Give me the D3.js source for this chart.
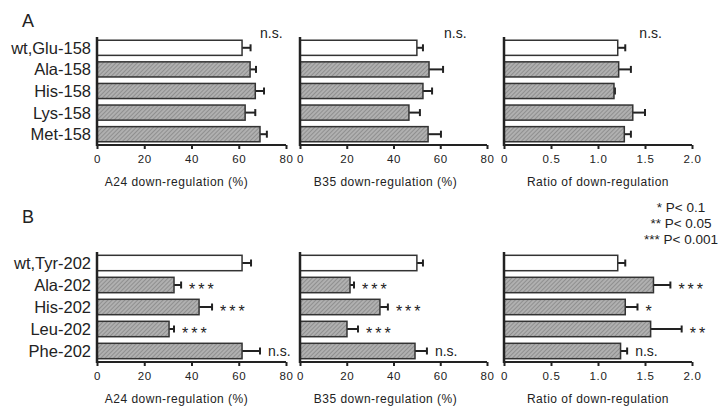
<!DOCTYPE html>
<html>
<head>
<meta charset="utf-8">
<script src="https://cdn.jsdelivr.net/npm/d3@7"></script>
<style>
  body { margin: 0; background: #fff; }
  text { font-family: "Liberation Sans", Arial, sans-serif; fill: #222; }
</style>
</head>
<body>
<div id="chart"></div>
<script>
// categories
var catsA = ["wt,Glu-158", "Ala-158", "His-158", "Lys-158", "Met-158"];
var catsB = ["wt,Tyr-202", "Ala-202", "His-202", "Leu-202", "Phe-202"];

// panel A values (mean, sem)
var a24A = [61.4, 64.8, 67.0, 62.7, 69.0];
var a24AErr = [3.6, 2.5, 3.7, 4.3, 2.9];
var b35A = [50.0, 55.2, 52.6, 46.6, 54.8];
var b35AErr = [2.6, 6.0, 3.9, 4.7, 5.5];
var ratioA = [1.21, 1.22, 1.17, 1.37, 1.28];
var ratioAErr = [0.08, 0.13, 0.01, 0.13, 0.07];
var nsA = [69, 61.6, 1.44]; // where the n.s. label sits on each axis

// panel B values
var a24B = [61.4, 32.6, 43.2, 30.5, 61.4];
var a24BErr = [3.8, 3.0, 5.5, 2.1, 7.6];
var b35B = [50.0, 21.4, 34.2, 20.1, 49.2];
var b35BErr = [2.6, 1.7, 3.4, 4.7, 5.1];
var ratioB = [1.21, 1.59, 1.29, 1.56, 1.24];
var ratioBErr = [0.08, 0.18, 0.13, 0.33, 0.07];
var sigB = ["", "***", "***", "***", "n.s."];
var sigRatioB = ["", "***", "*", "**", "n.s."];

// axes
var pctTicks = [0, 20, 40, 60, 80];
var ratioTicks = [0, 0.5, 1.0, 1.5, 2.0];
var titles = ["A24 down-regulation (%)", "B35 down-regulation (%)", "Ratio of down-regulation"];
var legendLines = ["* P< 0.1", "** P< 0.05", "*** P< 0.001"];

var W = 727, H = 406;
var cols = [[97, 286], [300, 487], [504, 692]];
var titleShift = [-15, -8, 0];

var svg = d3.select("#chart").append("svg")
    .attr("width", W).attr("height", H);

var defs = svg.append("defs");
var pat = defs.append("pattern")
    .attr("id", "hatch")
    .attr("patternUnits", "userSpaceOnUse")
    .attr("width", 3).attr("height", 3)
    .attr("patternTransform", "rotate(45)");
pat.append("rect").attr("width", 3).attr("height", 3).attr("fill", "#b0b0b0");
pat.append("line").attr("x1", 0).attr("y1", 0).attr("x2", 0).attr("y2", 3)
    .attr("stroke", "#787878").attr("stroke-width", 1.2);

function drawPanel(col, top, bottom, cats, vals, errs, ticks, title, fmt, notes) {
  var x = d3.scaleLinear()
      .domain([ticks[0], ticks[ticks.length - 1]])
      .range(cols[col]);
  var y = d3.scaleBand()
      .domain(cats)
      .range([top, bottom])
      .paddingInner(0.3).paddingOuter(0.15);

  var g = svg.append("g");
  var rows = cats.map(function(c, i) { return {cat: c, v: vals[i], e: errs[i], i: i}; });

  // error bars drawn first so the bar edge covers the stem start
  var eb = g.selectAll(".err").data(rows).enter().append("g").attr("class", "err");
  eb.append("line")
      .attr("x1", function(d) { return x(d.v); })
      .attr("x2", function(d) { return x(d.v + d.e); })
      .attr("y1", function(d) { return y(d.cat) + y.bandwidth() / 2; })
      .attr("y2", function(d) { return y(d.cat) + y.bandwidth() / 2; })
      .attr("stroke", "#222").attr("stroke-width", 2);
  eb.append("line")
      .attr("x1", function(d) { return x(d.v + d.e); })
      .attr("x2", function(d) { return x(d.v + d.e); })
      .attr("y1", function(d) { return y(d.cat) + y.bandwidth() / 2 - 3.5; })
      .attr("y2", function(d) { return y(d.cat) + y.bandwidth() / 2 + 3.5; })
      .attr("stroke", "#222").attr("stroke-width", 2);

  g.selectAll(".bar").data(rows).enter().append("rect")
      .attr("class", "bar")
      .attr("x", x(0))
      .attr("y", function(d) { return y(d.cat); })
      .attr("width", function(d) { return x(d.v) - x(0); })
      .attr("height", y.bandwidth())
      .attr("fill", function(d) { return d.i == 0 ? "#fff" : "url(#hatch)"; })
      .attr("stroke", "#333").attr("stroke-width", 1.5);

  // x axis
  var ax = g.append("g")
      .attr("transform", "translate(0," + bottom + ")")
      .call(d3.axisBottom(x).tickValues(ticks).tickFormat(fmt).tickSize(4).tickPadding(6));
  ax.select(".domain").attr("stroke", "#222").attr("stroke-width", 2)
      .attr("d", "M" + x.range()[0] + ",0H" + x.range()[1]);
  ax.selectAll(".tick line").attr("stroke", "#222").attr("stroke-width", 2);
  ax.selectAll(".tick text")
      .style("font-size", "11.5px").style("letter-spacing", "0.6px")
      .attr("fill", "#333");

  // y axis: plain line, labels only on the first column
  g.append("line")
      .attr("x1", x(0)).attr("x2", x(0))
      .attr("y1", top).attr("y2", bottom + 1)
      .attr("stroke", "#222").attr("stroke-width", 2.5);
  if (col == 0) {
    g.selectAll(".cat").data(rows).enter().append("text")
        .attr("x", x(0) - 6)
        .attr("y", function(d) { return y(d.cat) + y.bandwidth() / 2; })
        .attr("dy", "0.36em")
        .attr("text-anchor", "end")
        .style("font-size", "16.5px")
        .text(function(d) { return d.cat; });
  }

  g.append("text")
      .attr("x", (x.range()[0] + x.range()[1]) / 2 + titleShift[col])
      .attr("y", bottom + 41)
      .attr("text-anchor", "middle")
      .style("font-size", "12px").style("letter-spacing", "0.5px")
      .attr("fill", "#333")
      .text(title);

  if (notes) {
    g.selectAll(".sig").data(rows.filter(function(d) { return notes[d.i]; }))
      .enter().append("text")
        .attr("x", function(d) { return x(d.v + d.e) + 8; })
        .attr("y", function(d) { return y(d.cat) + y.bandwidth() / 2; })
        .attr("dy", function(d) { return notes[d.i] == "n.s." ? "0.36em" : "0.62em"; })
        .style("font-size", function(d) { return notes[d.i] == "n.s." ? "14px" : "16px"; })
        .style("letter-spacing", function(d) { return notes[d.i] == "n.s." ? "0px" : "3px"; })
        .attr("fill", "#333")
        .text(function(d) { return notes[d.i]; });
  }
  return x;
}

// panel A
var topA = 37, botA = 145;
var xs = [];
xs.push(drawPanel(0, topA, botA, catsA, a24A, a24AErr, pctTicks, titles[0], d3.format("d")));
xs.push(drawPanel(1, topA, botA, catsA, b35A, b35AErr, pctTicks, titles[1], d3.format("d")));
xs.push(drawPanel(2, topA, botA, catsA, ratioA, ratioAErr, ratioTicks, titles[2], function(d) { return d == 0 ? "0" : d3.format(".1f")(d); }));
xs.forEach(function(x, i) {
  svg.append("text")
      .attr("x", x(nsA[i])).attr("y", topA + 1)
      .style("font-size", "14px").attr("fill", "#333")
      .text("n.s.");
});

// panel B
var topB = 252, botB = 362;
drawPanel(0, topB, botB, catsB, a24B, a24BErr, pctTicks, titles[0], d3.format("d"), sigB);
drawPanel(1, topB, botB, catsB, b35B, b35BErr, pctTicks, titles[1], d3.format("d"), sigB);
drawPanel(2, topB, botB, catsB, ratioB, ratioBErr, ratioTicks, titles[2], function(d) { return d == 0 ? "0" : d3.format(".1f")(d); }, sigRatioB);

svg.append("text").attr("x", 22).attr("y", 27).style("font-size", "18px").text("A");
svg.append("text").attr("x", 22).attr("y", 223).style("font-size", "18px").text("B");

svg.selectAll(".legend").data(legendLines).enter().append("text")
    .attr("class", "legend")
    .attr("x", 681)
    .attr("y", function(d, i) { return 212 + i * 16; })
    .attr("text-anchor", "middle")
    .style("font-size", "13.5px").attr("fill", "#333")
    .text(function(d) { return d; });
</script>
</body>
</html>
